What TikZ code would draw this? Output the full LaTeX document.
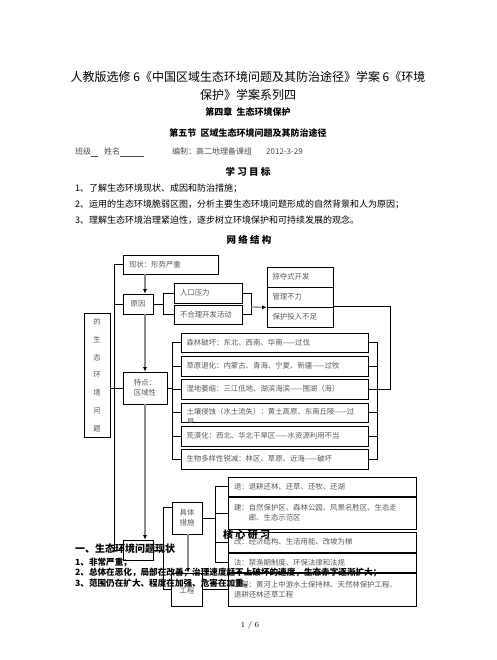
\documentclass[tikz,border=0pt]{standalone}
\usepackage{fontspec}
\newfontfamily\cjk{Noto Sans CJK SC}
\usetikzlibrary{arrows.meta}

\begin{document}
\begin{tikzpicture}[
  x=1pt, y=-1pt,
  font=\cjk,
  box/.style={draw, line width=0.7pt, inner sep=0pt, text=black!65, font=\cjk\fontsize{7.4}{10}\selectfont},
  lbox/.style={box, align=left, inner xsep=5.5pt, minimum height=20pt, text width=#1},
  cbox/.style={box, align=center, minimum width=30pt, minimum height=20pt},
  link/.style={line width=0.7pt},
  garr/.style={line width=1.3pt, draw=black!45, -{Latex[length=4.5pt,width=4pt,color=black]}},
  hd/.style={inner sep=0pt, font=\cjk\bfseries\fontsize{9}{11}\selectfont},
  txt/.style={anchor=west, inner sep=0pt, font=\cjk\fontsize{9}{11}\selectfont},
  over/.style={anchor=west, inner sep=0pt, font=\cjk\bfseries\fontsize{8.6}{10}\selectfont}
]
  \fill[white] (0,0) rectangle (496,660);
  \useasboundingbox (0,0) rectangle (496,660);

  % page head
  \node[inner sep=0pt, align=center, font=\cjk\fontsize{12}{18}\selectfont] (title) at (248,86)
    {人教版选修 6《中国区域生态环境问题及其防治途径》学案 6《环境\\保护》学案系列四};
  \node[hd] (chap) at (248,112) {第四章\ \ 生态环境保护};
  \node[hd] (sect) at (248,133) {第五节\ \ 区域生态环境问题及其防治途径};
  \node[txt, text=black!70, font=\cjk\fontsize{8}{10}\selectfont] (class) at (75,152)
    {班级\underline{\hspace{7pt}}\hspace{6pt}姓名\underline{\hspace{24pt}}\hspace{28pt}编制：高二地理备课组\hspace{14pt}2012-3-29};
  \node[hd, font=\cjk\bfseries\fontsize{9.5}{11}\selectfont] (goals) at (248,172) {学 习 目 标};
  \node[txt] (g1) at (75,188) {1、了解生态环境现状、成因和防治措施；};
  \node[txt] (g2) at (75,204) {2、运用的生态环境脆弱区图，分析主要生态环境问题形成的自然背景和人为原因；};
  \node[txt] (g3) at (75,220) {3、理解生态环境治理紧迫性，逐步树立环境保护和可持续发展的观念。};
  \node[hd, font=\cjk\bfseries\fontsize{9.5}{11}\selectfont] (net) at (249,240) {网 络 结 构};

  % left column
  \node[lbox=84pt, minimum height=19pt] (xianzhuang) at (171,264.5) {现状：形势严重};
  \node[cbox] (yuanyin) at (138,304) {原因};
  \node[box, minimum width=26pt, minimum height=124pt, align=center,
    font=\cjk\fontsize{7.4}{17.8}\selectfont] (wenti) at (97,375) {的\\生\\态\\环\\境\\问\\题};
  \node[cbox, minimum width=44pt, minimum height=32pt] (tedian) at (145,388) {特点：\\区域性};
  \node[cbox] (fangzhi) at (138,550) {};

  % causes
  \node[lbox=57pt] (renkou) at (208.5,293) {人口压力};
  \node[lbox=57pt, minimum height=19pt] (buheli) at (208.5,314.5) {不合理开发活动};
  \node[lbox=55pt] (lveduo) at (300,277) {掠夺式开发};
  \node[lbox=55pt] (guanli) at (300,297) {管理不力};
  \node[lbox=55pt] (baohu) at (300,317) {保护投入不足};

  % features
  \node[lbox=176pt, minimum height=19pt] (senlin) at (274.5,342.5) {森林破坏：东北、西南、华南——过伐};
  \node[lbox=176pt] (caoyuan) at (274.5,366) {草原退化：内蒙古、青海、宁夏、新疆——过牧};
  \node[lbox=176pt] (shidi) at (274.5,389) {湿地萎缩：三江低地、湖滨海滨——围湖（海）};
  \node[lbox=176pt, minimum height=19pt] (qinshi) at (274.5,412.5) {\raisebox{2.5pt}{土壤侵蚀（水土流失）：黄土高原、东南丘陵——过}};
  \node[lbox=176pt] (huangmo) at (274.5,436) {荒漠化：西北、华北干旱区——水资源利用不当};
  \node[lbox=176pt] (shengwu) at (274.5,459) {生物多样性锐减：林区、草原、近海——破坏};
  \begin{scope}
    \clip (qinshi.south west) rectangle (qinshi.north east);
    \node[anchor=north west, inner sep=0pt, text=black!65, font=\cjk\fontsize{7.4}{10}\selectfont]
      (kenfrag) at (187,418.5) {垦};
  \end{scope}

  % measures
  \node[cbox, minimum height=32pt] (jucuo) at (187,518) {具体\\措施};
  \node[cbox, minimum width=31pt, minimum height=33pt] (gongcheng) at (187,589.5) {\\[-2pt]工程};
  \node[lbox=177pt, minimum height=19pt] (tui) at (322.5,486.5) {退：退耕还林、还草、还牧、还湖};
  \node[lbox=177pt, minimum height=32pt] (jian) at (322.5,513) {建：自然保护区、森林公园、风景名胜区、生态走\\\hspace*{2em}廊、生态示范区};
  \node[lbox=177pt] (gai) at (322.5,542) {改：经济结构、生活用能、改坡为梯};
  \node[lbox=177pt, minimum height=19pt] (fa) at (322.5,562.5) {法：禁渔期制度、环保法律和法规};
  \node[lbox=177pt, minimum height=33pt] (gcbox) at (322.5,589.5) {工程：黄河上中游水土保持林、天然林保护工程、\\退耕还林还草工程};

  % junctions
  \coordinate (ax) at (145,0);
  \coordinate (bx) at (188,0);
  \coordinate (yb) at (163,304);
  \coordinate (rb) at (251,307);
  \coordinate (fl) at (172,388);
  \coordinate (fr) at (377,389);
  \coordinate (ml) at (163,550);
  \coordinate (mr) at (215,518);

  % brackets
  \draw[link] (xianzhuang.west) -- ++(-9,0) |- (fangzhi.west);
  \draw[link] (yuanyin.west) -- ++(-9,0);
  \draw[link] (wenti.east |- tedian.west) -- (tedian.west);
  \draw[link] (yuanyin.east) -- (yb);
  \draw[link] (renkou.west) -| (yb);
  \draw[link] (buheli.west) -| (yb);
  \draw[link] (renkou.east) -| (rb);
  \draw[link] (buheli.east) -| (rb);
  \draw[link] (baohu.north east) -- ++(57,0) |- (fr);
  \draw[link] (tedian.east) -- (fl);
  \foreach \n in {senlin,caoyuan,shidi,qinshi,huangmo,shengwu}{
    \draw[link] (\n.west) -| (fl);
    \draw[link] (\n.east) -| (fr);
  }
  \draw[link] (fangzhi.east) -- (ml);
  \draw[link] (jucuo.146) -| (ml);
  \draw[link] (gongcheng.west) -| (ml);
  \draw[link] (jucuo.east) -- (mr);
  \foreach \n in {tui,jian,gai,fa}
    \draw[link] (\n.west) -| (mr);
  \draw[link] (gongcheng.east) -- (gcbox.west);

  % gray arrows
  \draw[garr] (rb) -- (guanli.south west);
  \draw[garr] (xianzhuang.south -| ax) -- (yuanyin.north -| ax);
  \draw[garr] (yuanyin.south -| ax) -- (tedian.north);
  \draw[garr] (tedian.south) -- (fangzhi.north -| ax);
  \draw[garr] (jucuo.south -| bx) -- (gongcheng.north -| bx);

  % text laid over the chart
  \node[over, font=\cjk\bfseries\fontsize{10}{12}\selectfont] (hexin) at (223,535) {核 心 研 习};
  \node[over, font=\cjk\bfseries\fontsize{10}{12}\selectfont] (xz) at (75,549) {一、生态环境问题现状};
  \node[over] (o1) at (75,563) {1、非常严重；};
  \node[over] (o2) at (75,573) {2、总体在恶化，局部在改善；治理速度赶不上破坏的速度，生态赤字逐渐扩大；};
  \node[over] (o3) at (75,583) {3、范围仍在扩大、程度在加强、危害在加重。};

  \node[inner sep=0pt, font=\fontsize{8}{10}\selectfont] (page) at (250,625) {1 / 6};
\end{tikzpicture}
\end{document}
